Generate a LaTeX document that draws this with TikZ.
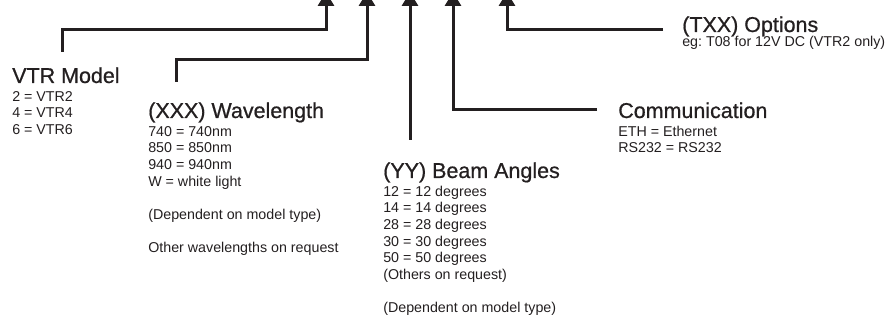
\documentclass[tikz,border=0pt]{standalone}
\usepackage{fontspec}
\setmainfont{Liberation Sans}
\newfontfamily\headfont[FakeBold=0.7]{Liberation Sans}
\usetikzlibrary{arrows.meta, positioning}
\definecolor{ink}{HTML}{231F20}

\begin{document}
\begin{tikzpicture}[
    x=0.75pt, y=-0.75pt,
    title/.style={anchor=base west, inner sep=0pt, text=ink,
                  font=\headfont\fontsize{16.1}{19}\selectfont},
    info/.style={anchor=north west, inner sep=0pt, text=ink, align=left,
                 font=\fontsize{10.7}{12.5}\selectfont\frenchspacing},
    lead/.style={draw=ink, line width=2.25pt,
                 -{Triangle[length=10.5pt,width=12pt]}}
]
\useasboundingbox (0,0) rectangle (888,320);

% --- Code fields ---
\node[title] (vtr)  at (12,83)   {VTR Model};
\node[title] (wave) at (148,118) {(XXX) Wavelength};
\node[title] (beam) at (383,178) {(YY) Beam Angles};
\node[title] (comm) at (618,118) {Communication};
\node[title] (opt)  at (682,32)  {(TXX) Options};

% --- Field values ---
\node[info] (vtrlist)  at ([yshift=-4.75pt]vtr.base west)
  {\strut 2 = VTR2\\4 = VTR4\\6 = VTR6};
\node[info] (wavelist) at ([yshift=-4.75pt]wave.base west)
  {\strut 740 = 740nm\\850 = 850nm\\940 = 940nm\\W = white light\\ \\
   (Dependent on model type)\\ \\Other wavelengths on request};
\node[info] (beamlist) at ([yshift=-4.75pt]beam.base west)
  {\strut 12 = 12 degrees\\14 = 14 degrees\\28 = 28 degrees\\
   30 = 30 degrees\\50 = 50 degrees\\(Others on request)\\ \\
   (Dependent on model type)};
\node[info] (commlist) at ([yshift=-4.75pt]comm.base west)
  {\strut ETH = Ethernet\\RS232 = RS232};
\node[info] (optlist)  at ([yshift=-2.2pt]opt.base west)
  {\strut eg: T08 for 12V DC (VTR2 only)};

% --- Pointers to the code ---
\coordinate (tip1) at (326,-8);
\coordinate (tip2) at (367,-8);
\coordinate (tip3) at (410,-8);
\coordinate (tip4) at (453,-8);
\coordinate (tip5) at (507,-8);
\coordinate (k1) at (326,30);
\coordinate (k2) at (367,60);

\draw[lead] ([shift={(50,-31)}]vtr.base west)  |- (k1) -- (tip1);
\draw[lead] ([shift={(28,-36)}]wave.base west) |- (k2) -- (tip2);
\draw[lead] ([shift={(27,-38)}]beam.base west) -- (tip3);
\draw[lead] ([shift={(-21,-8)}]comm.base west) -| (tip4);
\draw[lead] ([shift={(-19,-2)}]opt.base west)  -| (tip5);

\end{tikzpicture}
\end{document}
